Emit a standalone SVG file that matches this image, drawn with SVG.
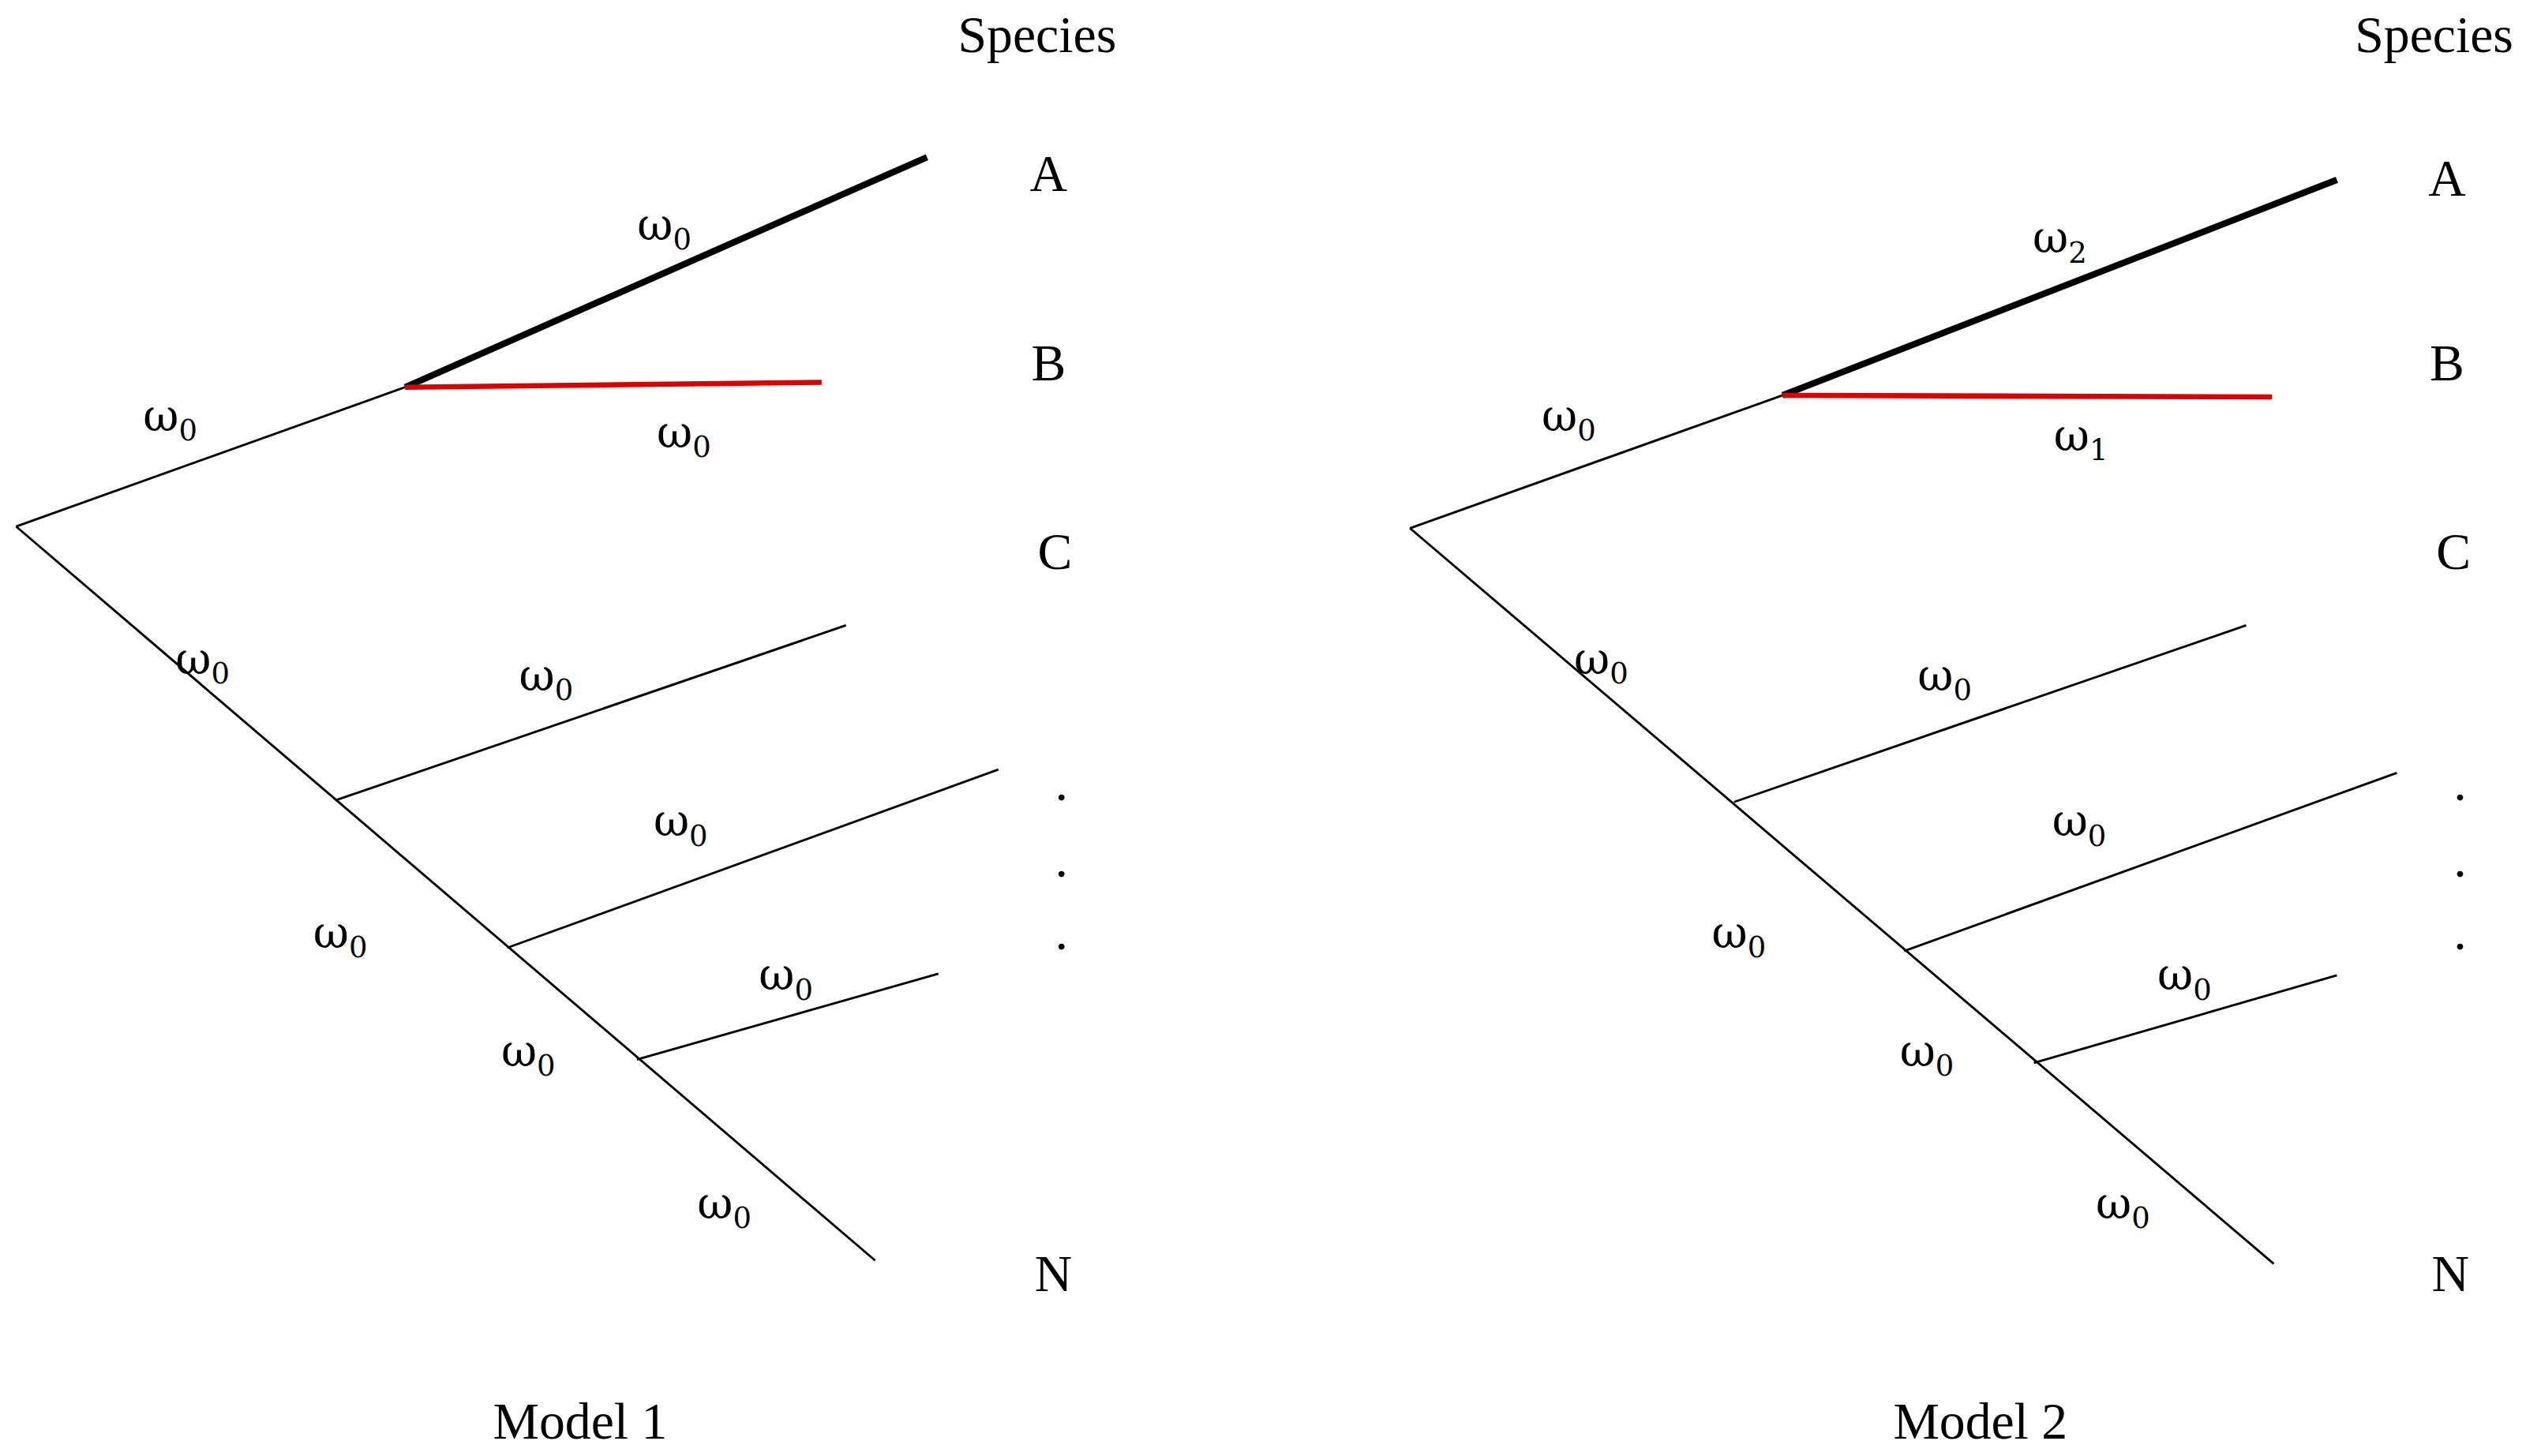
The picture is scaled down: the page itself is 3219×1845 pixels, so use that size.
<svg xmlns="http://www.w3.org/2000/svg" width="3219" height="1845" viewBox="0 0 3219 1845">
<style>
.t{font-family:"Liberation Serif",serif;font-size:32px;fill:#000;text-anchor:middle}
.w{font-family:"DejaVu Serif","Liberation Serif",serif;font-size:27px;fill:#000;text-anchor:middle}
.s{font-size:18px}
.thin{stroke:#000;stroke-width:1.4;fill:none}
.thick{stroke:#000;stroke-width:4;fill:none}
.red{stroke:#e00000;stroke-width:3.2;fill:none}
</style>
<rect width="3219" height="1845" fill="#fff"/>
<g transform="scale(2.053)">
<g id="connectors">
<line class="thin" x1="10" y1="325" x2="250" y2="239"/>
<line class="thick" x1="250" y1="239" x2="572" y2="97"/>
<line class="red" x1="250" y1="239" x2="507" y2="236"/>
<line class="thin" x1="10" y1="325" x2="540" y2="778"/>
<line class="thin" x1="207" y1="494" x2="522" y2="386"/>
<line class="thin" x1="313" y1="585" x2="616" y2="475"/>
<line class="thin" x1="393" y1="654" x2="579" y2="601"/>
<line class="thin" x1="870" y1="326" x2="1100" y2="244"/>
<line class="thick" x1="1100" y1="244" x2="1442" y2="111"/>
<line class="red" x1="1100" y1="244" x2="1402" y2="245"/>
<line class="thin" x1="870" y1="326" x2="1403" y2="780"/>
<line class="thin" x1="1070" y1="495" x2="1386" y2="386"/>
<line class="thin" x1="1175" y1="587" x2="1479" y2="477"/>
<line class="thin" x1="1255" y1="656" x2="1442" y2="602"/>
</g>
<g id="model1">
<text class="t" x="640" y="32">Species</text>
<text class="t" x="647" y="118">A</text>
<text class="t" x="647" y="235">B</text>
<text class="t" x="651" y="351">C</text>
<text class="t" x="655" y="494">.</text>
<text class="t" x="655" y="541">.</text>
<text class="t" x="655" y="586">.</text>
<text class="t" x="650" y="797">N</text>
<text class="t" x="358" y="888">Model 1</text>
<text class="w" x="105" y="266">ω<tspan class="s" dy="6">0</tspan></text>
<text class="w" x="410" y="148">ω<tspan class="s" dy="6">0</tspan></text>
<text class="w" x="422" y="276">ω<tspan class="s" dy="6">0</tspan></text>
<text class="w" x="125" y="416">ω<tspan class="s" dy="6">0</tspan></text>
<text class="w" x="337" y="426">ω<tspan class="s" dy="6">0</tspan></text>
<text class="w" x="420" y="516">ω<tspan class="s" dy="6">0</tspan></text>
<text class="w" x="210" y="585">ω<tspan class="s" dy="6">0</tspan></text>
<text class="w" x="485" y="611">ω<tspan class="s" dy="6">0</tspan></text>
<text class="w" x="326" y="658">ω<tspan class="s" dy="6">0</tspan></text>
<text class="w" x="447" y="752">ω<tspan class="s" dy="6">0</tspan></text>
</g>
<g id="model2">
<text class="t" x="1502" y="32">Species</text>
<text class="t" x="1510" y="121">A</text>
<text class="t" x="1510" y="235">B</text>
<text class="t" x="1514" y="351">C</text>
<text class="t" x="1518" y="494">.</text>
<text class="t" x="1518" y="541">.</text>
<text class="t" x="1518" y="586">.</text>
<text class="t" x="1512" y="797">N</text>
<text class="t" x="1222" y="888">Model 2</text>
<text class="w" x="968" y="266">ω<tspan class="s" dy="6">0</tspan></text>
<text class="w" x="1271" y="156">ω<tspan class="s" dy="6">2</tspan></text>
<text class="w" x="1284" y="278">ω<tspan class="s" dy="6">1</tspan></text>
<text class="w" x="988" y="416">ω<tspan class="s" dy="6">0</tspan></text>
<text class="w" x="1200" y="426">ω<tspan class="s" dy="6">0</tspan></text>
<text class="w" x="1283" y="516">ω<tspan class="s" dy="6">0</tspan></text>
<text class="w" x="1073" y="585">ω<tspan class="s" dy="6">0</tspan></text>
<text class="w" x="1348" y="611">ω<tspan class="s" dy="6">0</tspan></text>
<text class="w" x="1189" y="658">ω<tspan class="s" dy="6">0</tspan></text>
<text class="w" x="1310" y="752">ω<tspan class="s" dy="6">0</tspan></text>
</g>
</g>
</svg>
